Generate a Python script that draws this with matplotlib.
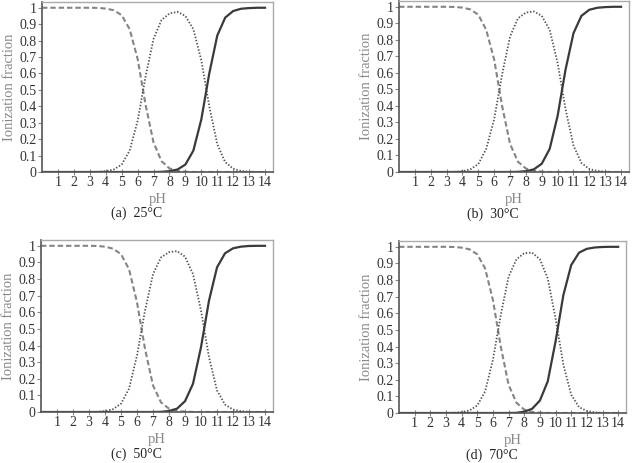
import matplotlib
matplotlib.use("Agg")
import matplotlib.pyplot as plt

plt.rcParams['font.family'] = ['Liberation Serif', 'DejaVu Serif']

# pH grid the curves were sampled on
ph = [0, 0.5, 1, 1.5, 2, 2.5, 3, 3.5, 4, 4.5, 5, 5.5, 6, 6.5, 7,
      7.5, 8, 8.5, 9, 9.5, 10, 10.5, 11, 11.5, 12, 12.5, 13, 13.5, 14]

# H2CO3 (dashed), HCO3- (dotted), CO3 2- (solid) fractions per temperature
h2co3_25 = [1, 1, 1, 1, 1, 1, 1, 0.999, 0.995, 0.985, 0.955, 0.87, 0.69, 0.41, 0.18,
            0.066, 0.022, 0.007, 0.002, 0, 0, 0, 0, 0, 0, 0, 0, 0, 0]
hco3_25 = [0, 0, 0, 0, 0, 0, 0, 0.001, 0.005, 0.015, 0.045, 0.13, 0.31, 0.58, 0.81,
           0.925, 0.965, 0.975, 0.95, 0.87, 0.68, 0.40, 0.17, 0.06, 0.02, 0.006, 0.002, 0, 0]
co3_25 = [0, 0, 0, 0, 0, 0, 0, 0, 0, 0, 0, 0, 0, 0, 0,
          0.001, 0.005, 0.015, 0.045, 0.13, 0.32, 0.60, 0.83, 0.94, 0.98, 0.994, 0.998, 1, 1]

h2co3_30 = [1, 1, 1, 1, 1, 1, 1, 0.999, 0.995, 0.984, 0.952, 0.86, 0.68, 0.40, 0.17,
            0.062, 0.021, 0.007, 0.002, 0, 0, 0, 0, 0, 0, 0, 0, 0, 0]
hco3_30 = [0, 0, 0, 0, 0, 0, 0, 0.001, 0.005, 0.016, 0.048, 0.14, 0.32, 0.59, 0.82,
           0.93, 0.965, 0.972, 0.945, 0.86, 0.66, 0.38, 0.16, 0.055, 0.018, 0.006, 0.002, 0, 0]
co3_30 = [0, 0, 0, 0, 0, 0, 0, 0, 0, 0, 0, 0, 0, 0, 0,
          0.001, 0.005, 0.016, 0.05, 0.14, 0.34, 0.62, 0.84, 0.945, 0.982, 0.994, 0.998, 1, 1]

h2co3_50 = [1, 1, 1, 1, 1, 1, 1, 0.999, 0.995, 0.983, 0.95, 0.86, 0.66, 0.38, 0.16,
            0.058, 0.02, 0.006, 0.002, 0, 0, 0, 0, 0, 0, 0, 0, 0, 0]
hco3_50 = [0, 0, 0, 0, 0, 0, 0, 0.001, 0.005, 0.017, 0.05, 0.14, 0.34, 0.61, 0.83,
           0.93, 0.962, 0.968, 0.935, 0.83, 0.61, 0.33, 0.13, 0.045, 0.015, 0.005, 0.001, 0, 0]
co3_50 = [0, 0, 0, 0, 0, 0, 0, 0, 0, 0, 0, 0, 0, 0, 0,
          0.001, 0.006, 0.02, 0.065, 0.17, 0.39, 0.67, 0.87, 0.955, 0.985, 0.995, 0.999, 1, 1]

h2co3_70 = [1, 1, 1, 1, 1, 1, 1, 0.999, 0.995, 0.985, 0.955, 0.87, 0.68, 0.40, 0.17,
            0.062, 0.02, 0.006, 0.002, 0, 0, 0, 0, 0, 0, 0, 0, 0, 0]
hco3_70 = [0, 0, 0, 0, 0, 0, 0, 0.001, 0.005, 0.015, 0.045, 0.13, 0.32, 0.59, 0.82,
           0.925, 0.962, 0.965, 0.925, 0.81, 0.57, 0.29, 0.11, 0.035, 0.012, 0.004, 0.001, 0, 0]
co3_70 = [0, 0, 0, 0, 0, 0, 0, 0, 0, 0, 0, 0, 0, 0, 0,
          0.001, 0.008, 0.025, 0.075, 0.19, 0.43, 0.71, 0.89, 0.965, 0.988, 0.996, 0.999, 1, 1]

captions = ["(a)  25°C", "(b)  30°C", "(c)  50°C", "(d)  70°C"]
panels = [(h2co3_25, hco3_25, co3_25), (h2co3_30, hco3_30, co3_30),
          (h2co3_50, hco3_50, co3_50), (h2co3_70, hco3_70, co3_70)]

yticks = [0, 0.1, 0.2, 0.3, 0.4, 0.5, 0.6, 0.7, 0.8, 0.9, 1]
ytick_labels = ["0", "0.1", "0.2", "0.3", "0.4", "0.5", "0.6", "0.7", "0.8", "0.9", "1"]
xticks = list(range(1, 15))

W, H = 634, 463
# axes boxes in pixels: left, top, right, bottom
boxes = [(42, 2, 273, 172), (399, 1, 629, 172),
         (41, 240, 273, 412), (399, 241, 626, 413)]

fig = plt.figure(figsize=(W / 100, H / 100), dpi=100)

for (l, t, r, b), (d1, d2, d3), cap in zip(boxes, panels, captions):
    ax = fig.add_axes([l / W, 1 - b / H, (r - l) / W, (b - t) / H])
    ax.plot(ph, d1, color="#858585", lw=1.5, ls=(0, (2.6, 1.4)))
    ax.plot(ph, d2, color="#555555", lw=1.3, ls=(0, (0.8, 1.0)))
    ax.plot(ph, d3, color="#3a3a3a", lw=1.6)
    ax.set_xlim(0, 14.5)
    ax.set_ylim(0, 1.035)
    ax.set_xticks(xticks)
    ax.set_yticks(yticks)
    ax.set_yticklabels(ytick_labels)
    ax.tick_params(axis="x", direction="inout", length=4, width=0.8,
                   color="#888888", labelsize=10, labelcolor="#333333", pad=1)
    ax.tick_params(axis="y", direction="out", length=3, width=0.8,
                   color="#888888", labelsize=10, labelcolor="#333333", pad=1)
    for s in ["left", "bottom"]:
        ax.spines[s].set_color("#555555")
        ax.spines[s].set_linewidth(1.2)
    for s in ["top", "right"]:
        ax.spines[s].set_color("#aaaaaa")
        ax.spines[s].set_linewidth(1.0)
    ax.set_xlabel("pH", color="#888888", fontsize=10.5, labelpad=3)
    ax.set_ylabel("Ionization fraction", color="#888888", fontsize=10.5, labelpad=2)
    ax.text(0.41, -0.245, cap, transform=ax.transAxes, ha="center", va="center",
            fontsize=10, color="#222222")

fig.savefig("out.png", dpi=100)
